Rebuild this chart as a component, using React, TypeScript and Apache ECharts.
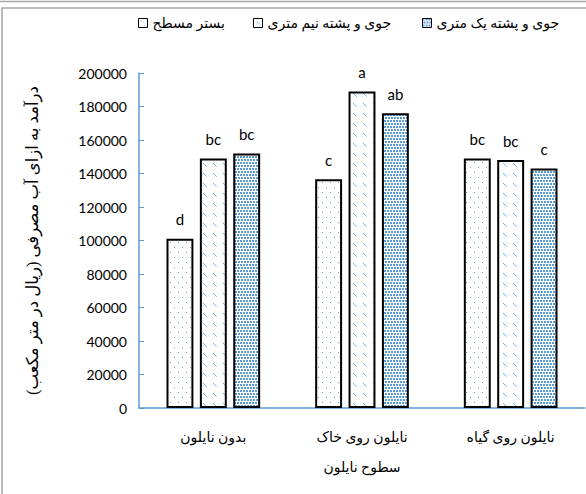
import React, { useEffect, useRef } from "react";
import * as echarts from "echarts";

const categories = ["بدون نایلون", "نایلون روی خاک", "نایلون روی گیاه"];
const seriesNames = ["بستر مسطح", "جوی و پشته نیم متری", "جوی و پشته یک متری"];
const flatBed = [101000, 136500, 149000];
const halfMeter = [149000, 189000, 148000];
const oneMeter = [152000, 176000, 143000];
const flatLetters = ["d", "c", "bc"];
const halfLetters = ["bc", "a", "bc"];
const oneLetters = ["bc", "ab", "c"];
const yTicks = { min: 0, max: 200000, interval: 20000 };
const yTitle = "درآمد به ازای آب مصرفی (ریال در متر مکعب)";
const xTitle = "سطوح نایلون";

const FA_FONT = '"Liberation Serif", "DejaVu Sans", serif';
const NUM_FONT = "Lato, sans-serif";
const AXIS_BLUE = "#5b9bd5";

function makeTile(kind: string) {
  const c = document.createElement("canvas");
  let w = 8, h = 10;
  if (kind === "dash") { w = 10; h = 10; }
  if (kind === "sq") { w = 6; h = 6; }
  c.width = w; c.height = h;
  const ctx = c.getContext("2d")!;
  ctx.fillStyle = "#ffffff";
  ctx.fillRect(0, 0, w, h);
  if (kind === "dot") {
    ctx.fillStyle = "#6fa3d8";
    ctx.fillRect(2, 2, 1, 1);
    ctx.fillRect(6, 7, 1, 1);
  } else if (kind === "dash") {
    ctx.strokeStyle = "#7aaee0";
    ctx.lineWidth = 1;
    ctx.beginPath();
    ctx.moveTo(3, 3);
    ctx.lineTo(6.5, 6.5);
    ctx.stroke();
  } else {
    ctx.fillStyle = "#5b9bd5";
    ctx.fillRect(0, 0, 2, 2);
    ctx.fillRect(3, 0, 2, 2);
    ctx.fillRect(1, 3, 2, 2);
    ctx.fillRect(4, 3, 2, 2);
  }
  return { image: c, repeat: "repeat", imageWidth: w, imageHeight: h } as any;
}

const legendLefts = [133, 248, 417];

export default function App() {
  const ref = useRef<HTMLDivElement>(null);
  useEffect(() => {
    if (!ref.current) return;
    const chart = echarts.init(ref.current, null, { renderer: "svg" });
    const patterns = [makeTile("dot"), makeTile("dash"), makeTile("sq")];
    const datas = [flatBed, halfMeter, oneMeter];
    const letters = [flatLetters, halfLetters, oneLetters];
    const series = datas.map((d, i) => ({
      name: seriesNames[i],
      type: "bar",
      data: d,
      barGap: "24%",
      barCategoryGap: "37%",
      itemStyle: { color: patterns[i], borderColor: "#000", borderWidth: 2 },
      label: {
        show: true,
        position: "top",
        distance: 12,
        formatter: (p: any) => letters[i][p.dataIndex],
        color: "#000",
        fontFamily: NUM_FONT,
        fontSize: 15,
      },
    }));
    const legends = seriesNames.map((n, i) => ({
      top: 11,
      left: legendLefts[i],
      itemWidth: 9,
      itemHeight: 9,
      itemGap: 0,
      icon: "rect",
      itemStyle: { borderWidth: 1, borderColor: "#000" },
      textStyle: { fontFamily: FA_FONT, fontSize: 14, color: "#000" },
      data: [n],
    }));
    chart.setOption({
      animation: false,
      backgroundColor: "#fff",
      graphic: [
        { type: "line", shape: { x1: 0, y1: 1.5, x2: 586, y2: 1.5 }, style: { stroke: "#a6a6a6", lineWidth: 1.5 } },
        { type: "rect", shape: { x: 2, y: 8, width: 700, height: 700 }, style: { fill: "none", stroke: "#a6a6a6", lineWidth: 1.5 } },
      ],
      legend: legends,
      grid: { left: 139, right: 1, top: 73, bottom: 86 },
      xAxis: {
        type: "category",
        data: categories,
        axisLine: { lineStyle: { color: AXIS_BLUE, width: 1.5 } },
        axisTick: { inside: true, length: 5, lineStyle: { color: AXIS_BLUE } },
        axisLabel: { color: "#000", fontFamily: FA_FONT, fontSize: 14, margin: 22 },
        name: xTitle,
        nameLocation: "middle",
        nameGap: 52,
        nameTextStyle: { color: "#000", fontFamily: FA_FONT, fontSize: 14 },
      },
      yAxis: {
        type: "value",
        min: yTicks.min,
        max: yTicks.max,
        interval: yTicks.interval,
        splitLine: { show: false },
        axisLine: { show: true, lineStyle: { color: AXIS_BLUE, width: 1.5 } },
        axisTick: { show: true, inside: true, length: 5, lineStyle: { color: AXIS_BLUE } },
        axisLabel: {
          color: "#000",
          fontFamily: NUM_FONT,
          fontSize: 14,
          margin: 12,
          formatter: (v: number) => String(v),
        },
        name: yTitle,
        nameLocation: "middle",
        nameGap: 98,
        nameRotate: 90,
        nameTextStyle: { color: "#000", fontFamily: FA_FONT, fontSize: 16.5 },
      },
      series,
    } as any);
    return () => chart.dispose();
  }, []);
  return (
    <div
      ref={ref}
      style={{ position: "fixed", left: 0, top: 0, width: 586, height: 494 }}
    />
  );
}
